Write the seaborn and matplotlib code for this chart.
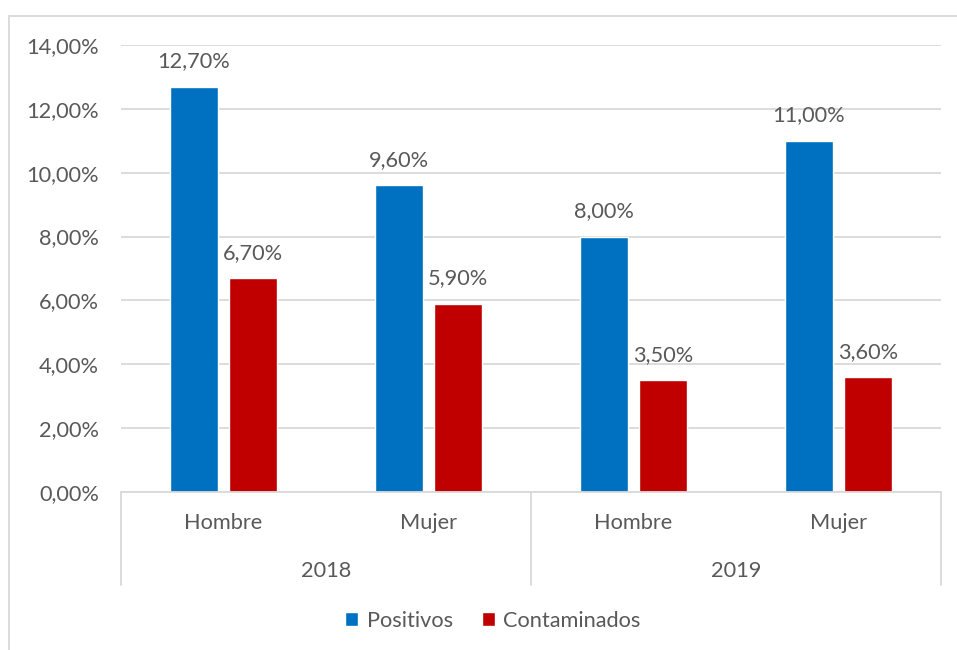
import matplotlib
matplotlib.use("Agg")
import matplotlib.pyplot as plt
import seaborn as sns
import pandas as pd
from matplotlib.patches import Rectangle, Patch
from matplotlib.lines import Line2D

years = ["2018", "2018", "2019", "2019"]
sexes = ["Hombre", "Mujer", "Hombre", "Mujer"]
series = ["Positivos", "Contaminados"]
positivos = [12.70, 9.60, 8.00, 11.00]
contaminados = [6.70, 5.90, 3.50, 3.60]
yticks = [0, 2, 4, 6, 8, 10, 12, 14]
colors = ["#0070C0", "#C00000"]

cats = [f"{y}-{s}" for y, s in zip(years, sexes)]
df = pd.DataFrame({
    "cat": cats * 2,
    "serie": [series[0]] * 4 + [series[1]] * 4,
    "valor": positivos + contaminados,
})

sns.set_style("white")
plt.rcParams["font.family"] = ["Lato", "DejaVu Sans"]
TXT = "#595959"
GRID = "#D9D9D9"
FS = 15.7

W, H = 957, 650
fig = plt.figure(figsize=(W / 100, H / 100), dpi=100)
ax = fig.add_axes([121 / W, 1 - 492 / H, (941 - 121) / W, (492 - 45) / H])

sns.barplot(data=df, x="cat", y="valor", hue="serie", order=cats,
            hue_order=series, palette=colors, width=0.576, gap=0.2,
            saturation=1, ax=ax, legend=False, errorbar=None)

for cont in ax.containers:
    vals = [b.get_height() for b in cont]
    ax.bar_label(cont, labels=[f"{v:.2f}%".replace(".", ",") for v in vals],
                 padding=11, fontsize=FS, color=TXT)

ax.set_xlim(-0.5, 3.5)
ax.set_ylim(0, 14)
ax.set_yticks(yticks)
ax.set_yticklabels([f"{t:.2f}%".replace(".", ",") for t in yticks], fontsize=FS, color=TXT)
ax.tick_params(axis="y", length=0, pad=16)
ax.tick_params(axis="x", length=0, labelbottom=False)
ax.set_xlabel("")
ax.set_ylabel("")
ax.yaxis.grid(True, color=GRID, linewidth=1.3)
ax.set_axisbelow(True)
for s in ["top", "right", "left"]:
    ax.spines[s].set_visible(False)
ax.spines["bottom"].set_color(GRID)
ax.spines["bottom"].set_linewidth(1.3)

# multi-level category labels
trans = ax.get_xaxis_transform()
for i, s in enumerate(sexes):
    ax.text(i, -31 / 447, s, transform=trans, ha="center", va="center", fontsize=FS, color=TXT)
for k, yr in enumerate(["2018", "2019"]):
    ax.text(2 * k + 0.5, -79 / 447, yr, transform=trans, ha="center", va="center", fontsize=FS, color=TXT)
for xpos in [-0.5, 1.5, 3.5]:
    ax.add_line(Line2D([xpos, xpos], [0, -93 / 447], transform=trans, color=GRID,
                       linewidth=1.3, clip_on=False))

# chart border
fig.patches.append(Rectangle((9 / W, -0.1), 1.2, 1 - 16 / H + 0.1, transform=fig.transFigure,
                             fill=False, edgecolor=GRID, linewidth=1.3))

handles = [Patch(facecolor=c, label=l) for c, l in zip(colors, series)]
fig.legend(handles=handles, loc="center", bbox_to_anchor=(493 / W, 1 - 621 / H), ncol=2,
           frameon=False, fontsize=FS, labelcolor=TXT, handlelength=0.6, handleheight=0.6,
           handletextpad=0.4, columnspacing=1.3)

fig.savefig("out.png", dpi=100, facecolor="white")
